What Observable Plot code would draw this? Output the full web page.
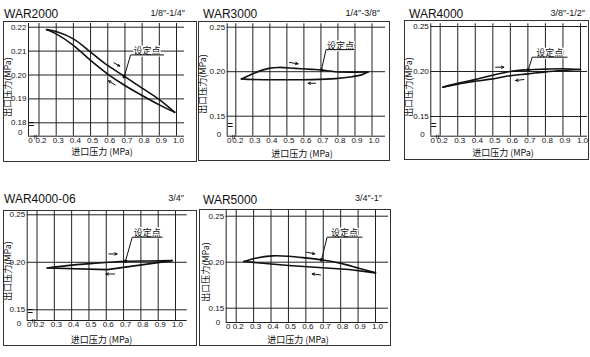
<!DOCTYPE html>
<html><head><meta charset="utf-8">
<script src="https://cdn.jsdelivr.net/npm/d3@7"></script>
<script src="https://cdn.jsdelivr.net/npm/@observablehq/plot@0.6"></script>
<style>
body{margin:0;background:#fff;}
#root{position:relative;width:590px;height:357px;overflow:hidden;font-family:"Liberation Sans",Arial,sans-serif;color:#111;background:#fff;}
.box{position:absolute;border:1px solid #333;box-sizing:border-box;}
.title{position:absolute;font-size:12px;line-height:12px;white-space:nowrap;}
.size{position:absolute;font-size:9px;line-height:9px;white-space:nowrap;}
.ylab,.xlab{position:absolute;font-family:"Noto Sans CJK SC",sans-serif;font-size:9px;line-height:9px;white-space:nowrap;}
.ylab{transform:translate(-50%,-50%) rotate(-90deg);}
.xlab{transform:translate(-50%,-50%);}
.plot{position:absolute;}
</style></head><body><div id="root"></div>
<script>
// ---------- data ----------
const titles = ["WAR2000", "WAR3000", "WAR4000", "WAR4000-06", "WAR5000"];
const portSizes = ["1/8″-1/4″", "1/4″-3/8″", "3/8″-1/2″", "3/4″", "3/4″-1″"];
const xTicks = [0.2, 0.3, 0.4, 0.5, 0.6, 0.7, 0.8, 0.9, 1.0];
const yTicksWar2000 = [0.18, 0.19, 0.20, 0.21, 0.22];
const yTicksStd = [0.15, 0.20, 0.25];
const yAxisTitle = "出口压力(MPa)";
const xAxisTitle = "进口压力 (MPa)";
const setPointLabel = "设定点";

// WAR2000
const war2000IncX = [0.244, 0.30, 0.40, 0.50, 0.60, 0.70, 0.80, 0.90, 0.99];
const war2000IncY = [0.2190, 0.2182, 0.2151, 0.2096, 0.2040, 0.1993, 0.1945, 0.1897, 0.1844];
const war2000DecX = [0.244, 0.30, 0.40, 0.50, 0.60, 0.70, 0.80, 0.90, 0.99];
const war2000DecY = [0.2190, 0.2172, 0.2124, 0.2061, 0.2004, 0.1956, 0.1914, 0.1875, 0.1844];
const war2000SetPoint = [0.696, 0.1993];
const war2000Note = [0.733, 0.925, 0.2084];
const war2000Arrows = [[0.636, 0.2051, 0.670, 0.2037], [0.644, 0.1958, 0.604, 0.1976]];

// WAR3000
const war3000IncX = [0.233, 0.315, 0.394, 0.452, 0.55, 0.648, 0.703, 0.785, 0.883, 0.977];
const war3000IncY = [0.1919, 0.1989, 0.2037, 0.2048, 0.2037, 0.2026, 0.2019, 0.2000, 0.1995, 0.1996];
const war3000DecX = [0.233, 0.30, 0.452, 0.648, 0.785, 0.883, 0.942, 0.977];
const war3000DecY = [0.1919, 0.1912, 0.1909, 0.1911, 0.1922, 0.1944, 0.1967, 0.1996];
const war3000SetPoint = [0.703, 0.2019];
const war3000Note = [0.73, 0.899, 0.2248];
const war3000Arrows = [[0.515, 0.2104, 0.566, 0.2089], [0.668, 0.1870, 0.625, 0.1870]];

// WAR4000
const war4000IncX = [0.215, 0.30, 0.392, 0.487, 0.597, 0.702, 0.801, 0.90, 1.0];
const war4000IncY = [0.1826, 0.1868, 0.1907, 0.1952, 0.2000, 0.2019, 0.2026, 0.2030, 0.2022];
const war4000DecX = [0.215, 0.30, 0.392, 0.487, 0.597, 0.702, 0.801, 0.90, 1.0];
const war4000DecY = [0.1826, 0.1860, 0.1889, 0.1915, 0.1952, 0.1974, 0.1996, 0.2011, 0.2022];
const war4000SetPoint = [0.702, 0.2019];
const war4000Note = [0.725, 0.924, 0.2159];
const war4000Arrows = [[0.516, 0.2048, 0.563, 0.2048], [0.677, 0.1911, 0.630, 0.1900]];

// WAR4000-06
const war400006IncX = [0.259, 0.374, 0.509, 0.711, 0.856, 0.981];
const war400006IncY = [0.1940, 0.1965, 0.1986, 0.2011, 0.2014, 0.2018];
const war400006DecX = [0.259, 0.606, 0.981];
const war400006DecY = [0.1940, 0.1923, 0.2018];
const war400006SetPoint = [0.711, 0.2011];
const war400006Note = [0.75, 0.923, 0.2264];
const war400006Arrows = [[0.615, 0.2088, 0.663, 0.2088], [0.648, 0.1877, 0.598, 0.1877]];

// WAR5000
const war5000IncX = [0.244, 0.311, 0.407, 0.502, 0.598, 0.69, 0.789, 0.904, 1.0];
const war5000IncY = [0.2007, 0.2043, 0.2069, 0.2065, 0.2047, 0.2025, 0.1993, 0.1935, 0.1884];
const war5000DecX = [0.244, 0.502, 0.847, 1.0];
const war5000DecY = [0.2007, 0.1964, 0.1920, 0.1884];
const war5000SetPoint = [0.69, 0.2025];
const war5000Note = [0.722, 0.923, 0.2272];
const war5000Arrows = [[0.604, 0.2109, 0.652, 0.2091], [0.684, 0.1862, 0.636, 0.1873]];

// ---------- layout (pixels) ----------
const layouts = [
  {box:[3,21,196,161], axisX:28, x02:38.5, x10:176, right:184, top:23, axisY:135.7, yLoPx:122.3, yHiPx:26.7,
   titleX:4, titleBase:18, sizeRight:185, sizeBase:17, ylab:[6.5,86.5], xlab:[102,151], zeroDy:-3.5, brk:-8.2, decCurve:"catmull-rom"},
  {box:[198,21,389,160], axisX:226.7, x02:235.3, x10:371.5, right:385, top:23.3, axisY:135.7, yLoPx:115.7, yHiPx:26.7,
   titleX:203, titleBase:18, sizeRight:380, sizeBase:17, ylab:[202,84], xlab:[302,152.5], zeroDy:-1.5, brk:-7.4, decCurve:"catmull-rom"},
  {box:[404,20,588,159], axisX:430.3, x02:439.7, x10:580, right:587, top:23.3, axisY:135.7, yLoPx:116, yHiPx:26,
   titleX:409, titleBase:18, sizeRight:585, sizeBase:17, ylab:[408,87], xlab:[503,152], zeroDy:-1.5, brk:-7.2, decCurve:"catmull-rom"},
  {box:[3,210,196,345], axisX:26.7, x02:36.5, x10:175, right:186.7, top:211, axisY:320, yLoPx:309.3, yHiPx:214.3,
   titleX:4, titleBase:203, sizeRight:184, sizeBase:202, ylab:[7,271], xlab:[101.5,339], zeroDy:3, brk:-6, decCurve:"linear"},
  {box:[199,209,390,345], axisX:225.7, x02:235.7, x10:375, right:388, top:210, axisY:322, yLoPx:307.7, yHiPx:215.7,
   titleX:203, titleBase:204, sizeRight:382, sizeBase:202, ylab:[205,272], xlab:[298,339], zeroDy:0, brk:null, decCurve:"linear"}
];

const series = [
  {yTicks:yTicksWar2000, incX:war2000IncX, incY:war2000IncY, decX:war2000DecX, decY:war2000DecY, sp:war2000SetPoint, note:war2000Note, arrows:war2000Arrows},
  {yTicks:yTicksStd, incX:war3000IncX, incY:war3000IncY, decX:war3000DecX, decY:war3000DecY, sp:war3000SetPoint, note:war3000Note, arrows:war3000Arrows},
  {yTicks:yTicksStd, incX:war4000IncX, incY:war4000IncY, decX:war4000DecX, decY:war4000DecY, sp:war4000SetPoint, note:war4000Note, arrows:war4000Arrows},
  {yTicks:yTicksStd, incX:war400006IncX, incY:war400006IncY, decX:war400006DecX, decY:war400006DecY, sp:war400006SetPoint, note:war400006Note, arrows:war400006Arrows},
  {yTicks:yTicksStd, incX:war5000IncX, incY:war5000IncY, decX:war5000DecX, decY:war5000DecY, sp:war5000SetPoint, note:war5000Note, arrows:war5000Arrows}
];

const root = document.getElementById("root");
const INK = "#111";
const GRID = "#222";
const CJK = "'Noto Sans CJK SC', sans-serif";

function el(cls, text, css) {
  const d = document.createElement("div");
  d.className = cls;
  d.textContent = text;
  Object.assign(d.style, css);
  root.appendChild(d);
  return d;
}

layouts.forEach((L, i) => {
  const S = series[i];
  const [bl, bt, br, bb] = L.box;
  el("box", "", {left: bl + "px", top: bt + "px", width: (br - bl + 1) + "px", height: (bb - bt + 1) + "px"});
  el("title", titles[i], {left: L.titleX + "px", top: (L.titleBase - 10.2) + "px"});
  el("size", portSizes[i], {right: (590 - L.sizeRight) + "px", top: (L.sizeBase - 7.6) + "px"});
  el("ylab", yAxisTitle, {left: L.ylab[0] + "px", top: L.ylab[1] + "px"});
  el("xlab", xAxisTitle, {left: L.xlab[0] + "px", top: L.xlab[1] + "px"});

  // scale domains from the pixel layout (axis break: "0" sits at the axis line)
  const stepX = (L.x10 - L.x02) / 8;
  const x0 = 0.2 - (L.x02 - L.axisX) / stepX * 0.1;
  const x1 = 1.0 + (L.right - L.x10) / stepX * 0.1;
  const yLo = S.yTicks[0], yHi = S.yTicks[S.yTicks.length - 1];
  const pxPerY = (L.yLoPx - L.yHiPx) / (yHi - yLo);
  const y0 = yLo - (L.axisY - L.yLoPx) / pxPerY;
  const y1 = yHi + (L.yHiPx - L.top) / pxPerY;

  const inc = S.incX.map((x, k) => ({x, y: S.incY[k]}));
  const dec = S.decX.map((x, k) => ({x, y: S.decY[k]}));
  const [u0, u1, uy] = S.note;
  const leader = [{x: S.sp[0], y: S.sp[1]}, {x: u0, y: uy}, {x: u1, y: uy}];
  const arrows = S.arrows.map(a => ({x1: a[0], y1: a[1], x2: a[2], y2: a[3]}));

  const marks = [
    Plot.ruleX(xTicks, {stroke: GRID, strokeWidth: 1}),
    Plot.ruleY(S.yTicks, {stroke: GRID, strokeWidth: 1}),
    Plot.ruleX([x0], {stroke: GRID, strokeWidth: 1}),
    Plot.ruleY([y0], {stroke: GRID, strokeWidth: 1}),
    Plot.line(inc, {x: "x", y: "y", curve: "catmull-rom", stroke: INK, strokeWidth: 1.6}),
    Plot.line(dec, {x: "x", y: "y", curve: L.decCurve, stroke: INK, strokeWidth: 1.6}),
    Plot.text([S.note], {x: d => (d[0] + d[1]) / 2, y: d => d[2], text: () => setPointLabel, lineAnchor: "bottom", dy: -1,
      fontFamily: CJK, fontSize: 9, fill: INK, stroke: "#fff", strokeWidth: 3, paintOrder: "stroke"}),
    Plot.line(leader, {x: "x", y: "y", stroke: INK, strokeWidth: 1}),
    Plot.dot([S.sp], {x: d => d[0], y: d => d[1], r: 1.8, fill: INK}),
    Plot.arrow(arrows, {x1: "x1", y1: "y1", x2: "x2", y2: "y2", stroke: INK, strokeWidth: 1, headLength: 4, headAngle: 50}),
    Plot.axisX(xTicks, {tickSize: 0, tickPadding: 1, tickFormat: d3.format(".1f"), dx: 2, label: null, fontSize: 8}),
    Plot.axisX([x0], {tickSize: 0, tickPadding: 1, tickFormat: () => "0", dx: 2, label: null, fontSize: 8}),
    Plot.axisY(S.yTicks, {tickSize: 0, tickPadding: 2, tickFormat: d3.format(".2f"), label: null, fontSize: 8}),
    Plot.axisY([y0], {tickSize: 0, tickPadding: 2, tickFormat: () => "0", dx: -4, dy: L.zeroDy, label: null, fontSize: 8})
  ];
  if (L.brk !== null) {
    marks.push(Plot.text(["="], {frameAnchor: "bottom-left", text: d => d, dy: L.brk, fontSize: 10, fill: INK}));
    marks.push(Plot.text(["="], {frameAnchor: "bottom-left", text: d => d, dx: 4, dy: -2, rotate: 90, fontSize: 9, fill: INK}));
  }

  const svg = Plot.plot({
    width: br - bl,
    height: bb - bt,
    marginLeft: L.axisX - bl,
    marginRight: br - L.right,
    marginTop: L.top - bt,
    marginBottom: bb - L.axisY,
    x: {domain: [x0, x1]},
    y: {domain: [y0, y1]},
    style: {fontFamily: "'Liberation Sans', Arial, sans-serif", fontSize: "8px", color: INK, background: "transparent", overflow: "visible"},
    marks
  });
  const wrap = document.createElement("div");
  wrap.className = "plot";
  wrap.style.left = bl + "px";
  wrap.style.top = bt + "px";
  wrap.appendChild(svg);
  root.appendChild(wrap);
});
</script></body></html>
